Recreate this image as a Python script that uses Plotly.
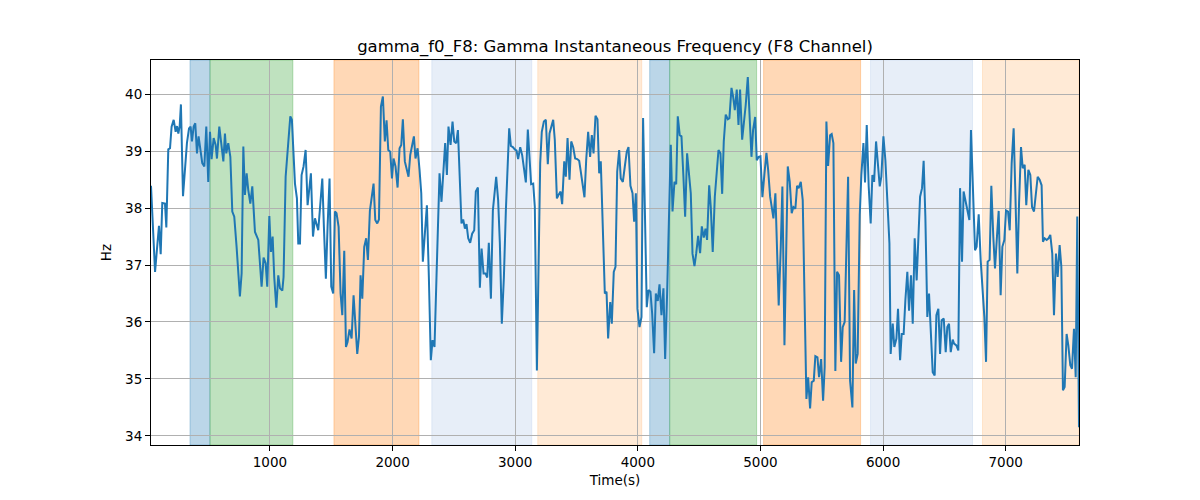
import plotly.graph_objects as go

# sample times (s) and gamma instantaneous frequency (Hz), F8 channel
time_s = [
    30, 63, 95, 109, 122, 144, 155, 171, 185, 198,
    215, 231, 242, 253, 264, 274, 291, 307, 323, 340,
    353, 364, 378, 391, 405, 418, 432, 448, 465, 481,
    497, 511, 524, 541, 557, 568, 587, 606, 620, 633,
    644, 660, 677, 693, 709, 728, 742, 755, 769, 783,
    796, 810, 823, 840, 856, 878, 905, 932, 948, 965,
    978, 995, 1008, 1022, 1035, 1052, 1068, 1082, 1101, 1111,
    1128, 1149, 1166, 1179, 1193, 1204, 1220, 1231, 1245, 1258,
    1274, 1291, 1307, 1334, 1351, 1367, 1394, 1410, 1427, 1440,
    1456, 1470, 1486, 1500, 1516, 1530, 1543, 1560, 1576, 1590,
    1606, 1620, 1633, 1649, 1666, 1682, 1696, 1712, 1726, 1739,
    1753, 1769, 1785, 1799, 1815, 1829, 1845, 1859, 1875, 1889,
    1905, 1921, 1937, 1951, 1965, 1981, 1995, 2008, 2024, 2041,
    2057, 2071, 2084, 2100, 2114, 2130, 2144, 2160, 2174, 2187,
    2204, 2220, 2234, 2247, 2264, 2280, 2296, 2312, 2326, 2342,
    2359, 2383, 2399, 2413, 2429, 2443, 2456, 2473, 2489, 2503,
    2519, 2533, 2549, 2562, 2576, 2590, 2603, 2617, 2633, 2649,
    2666, 2679, 2696, 2712, 2726, 2742, 2758, 2772, 2785, 2802,
    2818, 2832, 2845, 2861, 2875, 2891, 2908, 2924, 2938, 2951,
    2965, 2981, 2997, 3011, 3024, 3041, 3057, 3073, 3087, 3103,
    3117, 3130, 3147, 3160, 3177, 3193, 3204, 3217, 3234, 3250,
    3266, 3280, 3296, 3310, 3323, 3340, 3353, 3370, 3383, 3400,
    3413, 3427, 3443, 3457, 3473, 3489, 3506, 3522, 3535, 3549,
    3565, 3579, 3595, 3611, 3625, 3639, 3655, 3671, 3685, 3698,
    3715, 3731, 3745, 3758, 3775, 3788, 3804, 3818, 3832, 3848,
    3861, 3878, 3894, 3910, 3924, 3940, 3957, 3970, 3984, 3997,
    4014, 4030, 4043, 4057, 4073, 4087, 4103, 4117, 4133, 4147,
    4163, 4177, 4193, 4209, 4223, 4239, 4253, 4269, 4283, 4299,
    4313, 4326, 4342, 4356, 4372, 4386, 4402, 4419, 4432, 4446,
    4462, 4476, 4492, 4508, 4522, 4538, 4552, 4565, 4582, 4595,
    4611, 4628, 4644, 4658, 4674, 4688, 4701, 4717, 4734, 4747,
    4764, 4777, 4791, 4807, 4821, 4834, 4851, 4864, 4880, 4897,
    4910, 4927, 4940, 4957, 4970, 4986, 5000, 5016, 5033, 5049,
    5063, 5079, 5092, 5106, 5122, 5136, 5149, 5166, 5179, 5196,
    5209, 5223, 5239, 5255, 5269, 5285, 5299, 5312, 5329, 5345,
    5359, 5375, 5389, 5405, 5418, 5435, 5448, 5465, 5478, 5495,
    5511, 5524, 5538, 5552, 5568, 5581, 5595, 5611, 5625, 5641,
    5658, 5671, 5687, 5701, 5715, 5731, 5750, 5764, 5777, 5793,
    5810, 5823, 5840, 5853, 5867, 5883, 5899, 5913, 5927, 5943,
    5956, 5973, 5986, 6003, 6019, 6035, 6052, 6062, 6079, 6092,
    6109, 6122, 6139, 6152, 6168, 6182, 6198, 6212, 6228, 6242,
    6258, 6274, 6288, 6302, 6318, 6331, 6345, 6361, 6375, 6389,
    6405, 6421, 6435, 6451, 6465, 6478, 6495, 6511, 6524, 6538,
    6552, 6568, 6579, 6598, 6614, 6628, 6644, 6657, 6674, 6687,
    6704, 6717, 6734, 6750, 6763, 6780, 6796, 6812, 6826, 6840,
    6853, 6869, 6883, 6899, 6913, 6929, 6943, 6959, 6973, 6989,
    7003, 7019, 7033, 7049, 7065, 7079, 7095, 7109, 7125, 7139,
    7155, 7168, 7185, 7201, 7215, 7231, 7244, 7261, 7277, 7293,
    7304, 7318, 7334, 7350, 7364, 7380, 7394, 7410, 7424, 7440,
    7454, 7467, 7481, 7497, 7511, 7527, 7541, 7557, 7571, 7584,
    7598,
]

gamma_hz = [
    38.39, 36.88, 37.69, 37.19, 38.09, 38.08, 37.66, 39.03, 39.05, 39.43,
    39.55, 39.34, 39.44, 39.31, 39.44, 39.82, 38.21, 38.61, 39.14, 39.40,
    39.43, 39.17, 39.43, 39.49, 38.96, 39.26, 39.05, 38.79, 38.73, 39.43,
    38.46, 39.34, 38.86, 39.23, 39.11, 38.87, 39.43, 39.02, 38.82, 39.31,
    38.96, 39.14, 38.90, 37.94, 37.85, 37.32, 36.85, 36.45, 36.85, 39.08,
    38.23, 38.61, 38.32, 38.08, 38.38, 37.58, 37.44, 36.62, 37.13, 37.03,
    36.62, 37.86, 37.23, 37.50, 36.79, 36.25, 36.82, 36.59, 36.55, 36.79,
    38.55, 39.08, 39.61, 39.55, 38.90, 38.43, 38.17, 37.38, 37.38, 38.58,
    38.73, 39.02, 38.05, 38.61, 37.50, 37.82, 37.61, 38.14, 38.52, 37.67,
    36.76, 37.67, 38.52, 36.62, 36.50, 37.94, 37.91, 37.67, 36.50, 36.12,
    37.25, 35.56, 35.65, 35.87, 35.71, 36.47, 35.97, 35.44, 35.74, 36.82,
    36.41, 37.32, 37.47, 37.09, 37.95, 38.14, 38.43, 37.79, 37.73, 37.80,
    39.78, 39.96, 39.17, 39.54, 39.02, 38.99, 38.52, 38.87, 38.73, 38.36,
    39.05, 39.11, 39.56, 38.82, 38.67, 38.55, 38.93, 39.08, 39.26, 38.87,
    39.05, 38.67, 38.26, 37.06, 37.61, 38.05, 36.79, 35.33, 35.68, 35.56,
    36.85, 38.61, 38.11, 38.55, 39.14, 38.58, 39.43, 39.11, 39.52, 39.17,
    39.14, 39.37, 38.43, 37.73, 37.80, 37.64, 37.72, 37.47, 37.39, 37.55,
    37.61, 38.29, 38.36, 36.60, 37.29, 36.85, 36.85, 36.78, 37.39, 36.41,
    37.96, 38.26, 38.55, 38.14, 37.38, 35.97, 36.79, 37.96, 38.79, 39.40,
    39.09, 39.07, 39.03, 39.01, 38.86, 39.07, 38.93, 38.67, 38.45, 39.38,
    38.84, 38.42, 38.43, 38.02, 35.15, 37.61, 38.79, 39.34, 39.52, 39.55,
    38.77, 39.31, 39.46, 39.55, 39.20, 38.17, 38.23, 38.29, 38.07, 38.82,
    38.55, 39.23, 38.50, 39.17, 39.07, 38.87, 38.86, 38.83, 38.64, 38.40,
    38.19, 38.84, 39.34, 38.90, 39.28, 38.96, 39.62, 39.56, 38.61, 38.82,
    37.67, 36.50, 36.53, 35.71, 36.35, 35.97, 36.88, 36.97, 38.64, 39.02,
    38.52, 38.46, 38.73, 38.99, 39.07, 38.39, 38.26, 37.76, 38.26, 36.23,
    35.91, 36.09, 39.58, 37.96, 36.26, 36.56, 36.53, 36.15, 35.45, 36.50,
    36.37, 36.66, 36.12, 36.59, 35.35, 36.50, 37.91, 39.11, 37.94, 38.46,
    38.42, 39.61, 39.28, 39.26, 38.55, 37.85, 38.96, 38.61, 38.26, 37.20,
    36.98, 37.20, 37.51, 37.21, 37.68, 37.48, 37.64, 37.44, 38.40, 38.02,
    37.23, 38.20, 38.67, 39.02, 38.96, 38.25, 39.17, 39.64, 39.56, 39.58,
    40.11, 39.96, 39.72, 40.08, 39.46, 40.08, 39.20, 39.43, 39.81, 40.30,
    39.58, 38.90, 39.37, 39.60, 38.84, 38.90, 38.91, 38.19, 38.61, 38.97,
    38.67, 38.20, 38.02, 37.82, 38.26, 37.26, 36.29, 37.32, 38.38, 35.59,
    37.09, 38.73, 38.46, 37.91, 38.02, 37.99, 38.39, 38.35, 38.46, 38.14,
    36.50, 34.65, 35.03, 34.48, 34.94, 34.97, 35.40, 35.38, 35.03, 35.35,
    34.62, 35.21, 39.52, 38.74, 39.28, 39.30, 39.14, 35.14, 36.88, 36.82,
    35.30, 35.91, 36.00, 37.09, 38.55, 34.97, 34.50, 36.56, 35.27, 35.44,
    37.88, 38.58, 39.14, 38.45, 39.46, 38.38, 37.73, 38.58, 38.46, 39.17,
    38.84, 38.38, 38.55, 39.26, 38.84, 38.08, 37.38, 35.44, 35.97, 35.56,
    35.71, 36.23, 35.33, 35.79, 35.79, 36.38, 36.88, 36.20, 36.82, 35.97,
    37.47, 36.73, 37.38, 38.20, 38.35, 38.83, 37.85, 36.09, 36.50, 35.91,
    35.12, 35.06, 36.12, 36.23, 35.44, 36.03, 36.06, 35.47, 35.91, 35.97,
    35.47, 35.69, 35.62, 35.59, 35.50, 38.35, 37.06, 38.29, 38.09, 37.96,
    37.79, 39.37, 38.26, 37.26, 37.32, 37.89, 37.09, 36.62, 36.09, 35.30,
    37.06, 37.09, 38.39, 37.50, 36.94, 37.50, 37.95, 36.47, 37.32, 37.44,
    37.96, 37.94, 37.61, 38.79, 39.40, 38.26, 36.85, 38.08, 39.07, 38.70,
    38.76, 38.05, 38.67, 38.58, 38.02, 37.94, 38.26, 38.55, 38.50, 38.40,
    37.41, 37.47, 37.44, 37.47, 37.53, 37.20, 36.12, 37.20, 36.79, 37.35,
    36.97, 34.80, 34.86, 35.79, 35.59, 35.24, 35.18, 35.88, 35.03, 37.85,
    34.15,
]

# shaded segments (start, end in seconds) and their colours
band_start = [348, 511, 1522, 2320, 3184, 4097, 4260, 5026, 5898, 6811]
band_end = [511, 1187, 2215, 3135, 4032, 4260, 4969, 5817, 6730, 7598]
band_color = [
    "31,119,180", "44,160,44", "255,127,14", "174,199,232", "255,187,120",
    "31,119,180", "44,160,44", "255,127,14", "174,199,232", "255,187,120",
]

assert len(time_s) == len(gamma_hz)

fig = go.Figure()

for x0, x1, c in zip(band_start, band_end, band_color):
    fig.add_shape(
        type="rect", xref="x", yref="paper", x0=x0, x1=x1, y0=0, y1=1,
        fillcolor=f"rgba({c},0.3)", line=dict(color=f"rgba({c},0.3)", width=1),
        layer="below",
    )

fig.add_trace(go.Scatter(
    x=time_s, y=gamma_hz, mode="lines",
    line=dict(color="#1f77b4", width=2),
    showlegend=False,
))

axis_style = dict(
    showline=True, mirror=True, linecolor="black", linewidth=1,
    ticks="outside", ticklen=5, tickcolor="black",
    showgrid=True, gridcolor="#b0b0b0", gridwidth=1,
    zeroline=False,
    tickfont=dict(size=13.5, color="black"),
)

# the page body adds an 8px offset, margins compensate for it
fig.update_layout(
    width=1200, height=500,
    margin=dict(l=143, r=129, t=52, b=63),
    paper_bgcolor="white", plot_bgcolor="white",
    font=dict(family="DejaVu Sans", color="black"),
    title=dict(
        text="gamma_f0_F8: Gamma Instantaneous Frequency (F8 Channel)",
        x=0.5, xref="paper", y=0.924, yref="container", yanchor="middle",
        font=dict(size=16.5),
    ),
    xaxis=dict(
        range=[30, 7598], tickvals=[1000, 2000, 3000, 4000, 5000, 6000, 7000],
        title=dict(text="Time(s)", font=dict(size=13.5), standoff=6),
        **axis_style,
    ),
    yaxis=dict(
        range=[33.84, 40.6], tickvals=[34, 35, 36, 37, 38, 39, 40],
        title=dict(text="Hz", font=dict(size=13.5), standoff=10),
        **axis_style,
    ),
)

fig.write_html("out.html")
